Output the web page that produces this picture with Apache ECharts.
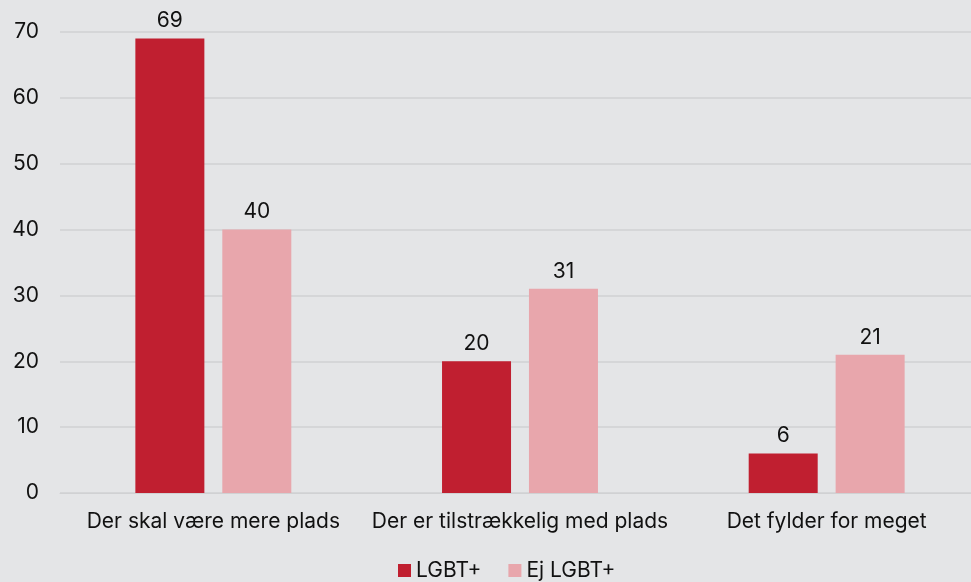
<!DOCTYPE html>
<html>
<head>
<meta charset="utf-8">
<script src="https://cdn.jsdelivr.net/npm/echarts@6/dist/echarts.min.js"></script>
<style>
  html, body { margin: 0; padding: 0; background: #e4e5e7; overflow: hidden; }
  #chart { width: 980px; height: 582px; }
</style>
</head>
<body>
<div id="chart"></div>
<script>
// Categories and values for the grouped bar chart
const categories = ['Der skal være mere plads', 'Der er tilstrækkelig med plads', 'Det fylder for meget'];
const lgbtValues = [69, 20, 6];
const ejLgbtValues = [40, 31, 21];
const seriesNames = ['LGBT+', 'Ej LGBT+'];

const FONT = 'Inter, "Noto Sans", sans-serif';
const FS = 21;
const chart = echarts.init(document.getElementById('chart'), null, { renderer: 'canvas' });

chart.setOption({
  backgroundColor: '#e4e5e7',
  animation: false,
  textStyle: { fontFamily: FONT },
  grid: { left: 60, right: 0, top: 32, bottom: 89, containLabel: false },
  legend: {
    left: 398,
    top: 560,
    padding: 0,
    itemWidth: 13,
    itemHeight: 13,
    itemGap: 27,
    icon: 'rect',
    textStyle: { fontFamily: FONT, fontSize: FS, color: '#111' },
    data: seriesNames
  },
  xAxis: {
    type: 'category',
    data: categories,
    axisLine: { show: true, lineStyle: { color: '#d0d1d3', width: 1 } },
    axisTick: { show: false },
    axisLabel: { interval: 0, fontFamily: FONT, fontSize: FS, color: '#111', margin: 18 }
  },
  yAxis: {
    type: 'value',
    min: 0,
    max: 70,
    interval: 10,
    axisLine: { show: false },
    axisTick: { show: false },
    axisLabel: { fontFamily: FONT, fontSize: FS, color: '#111', margin: 21 },
    splitLine: { lineStyle: { color: '#d5d6d8', width: 2 } }
  },
  series: [
    {
      name: seriesNames[0],
      type: 'bar',
      data: lgbtValues,
      barWidth: 69,
      barGap: '26%',
      itemStyle: { color: '#c01f30' },
      label: { show: true, position: 'top', distance: 7, fontFamily: FONT, fontSize: FS, color: '#111' }
    },
    {
      name: seriesNames[1],
      type: 'bar',
      data: ejLgbtValues,
      barWidth: 69,
      barGap: '26%',
      itemStyle: { color: '#e8a6ac' },
      label: { show: true, position: 'top', distance: 7, fontFamily: FONT, fontSize: FS, color: '#111' }
    }
  ]
});
</script>
</body>
</html>
